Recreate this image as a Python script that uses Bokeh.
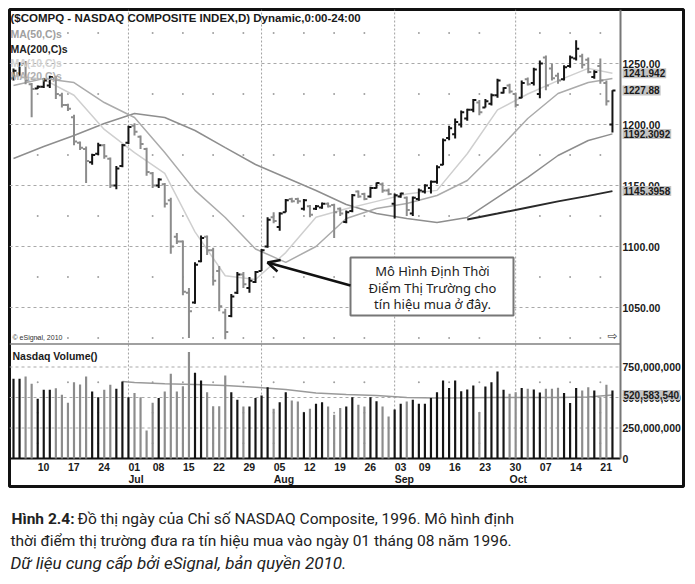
from bokeh.plotting import figure
from bokeh.models import Range1d, Arrow, OpenHead, ColumnDataSource
from bokeh.layouts import column
from bokeh.embed import file_html
from bokeh.resources import INLINE
from bokeh.core.properties import value

# ---------------- data ----------------
# daily sessions of the NASDAQ Composite, 4 Jun 1996 .. 23 Oct 1996 (index 0..99)
opens = [1238, 1242, 1250, 1233, 1229.5, 1231, 1232, 1238, 1224, 1216,
         1206, 1185, 1180, 1169, 1176, 1183, 1172, 1150, 1166, 1185,
         1199, 1190, 1180, 1160, 1150, 1151, 1138, 1108, 1104, 1062,
         1054, 1088, 1108, 1097, 1080, 1046, 1043, 1062, 1077, 1066,
         1071, 1080, 1100, 1124, 1116, 1128, 1139, 1139, 1131, 1133,
         1131, 1132, 1135, 1134, 1131, 1120, 1129, 1145, 1143, 1141,
         1148, 1151, 1146, 1135, 1141, 1140, 1127, 1139, 1145, 1148,
         1153, 1167, 1189, 1192, 1200, 1205, 1212, 1218, 1214, 1217,
         1224, 1226, 1232, 1225, 1222, 1237, 1234, 1225, 1255, 1246,
         1240, 1237, 1248, 1254, 1256, 1253, 1239, 1248, 1234, 1200]
highs = [1246, 1251, 1252, 1234, 1232, 1238, 1240, 1240, 1226, 1217,
         1208, 1186, 1182, 1176, 1185, 1184, 1173, 1166, 1184, 1199,
         1201, 1191, 1181, 1161, 1156, 1152, 1140, 1111, 1105, 1066,
         1087, 1109, 1109, 1099, 1084, 1049, 1061, 1079, 1079, 1075,
         1080, 1098, 1124, 1128, 1128, 1139, 1140, 1140, 1139, 1134,
         1134, 1136, 1136, 1135, 1132, 1129.5, 1143, 1146, 1144, 1149,
         1152.5, 1152.5, 1147.5, 1143.5, 1144, 1141, 1141, 1147.5, 1151, 1154,
         1166.5, 1188.5, 1199, 1205, 1211.5, 1213, 1221, 1220, 1221, 1225.5,
         1237.5, 1230.5, 1233.5, 1226, 1236, 1238.5, 1246.5, 1252.5, 1256.5, 1250,
         1242.5, 1248.5, 1256.5, 1269, 1258, 1255, 1244.5, 1254, 1236, 1228]
lows = [1236, 1240, 1233, 1206, 1229, 1230, 1230, 1221, 1214, 1211,
        1183, 1179, 1152, 1167, 1175, 1172, 1148, 1147, 1165, 1184,
        1191, 1180, 1158, 1148, 1148, 1132, 1094, 1102, 1060, 1025,
        1053, 1087, 1093, 1068, 1047, 1024, 1042, 1061, 1066, 1062,
        1070, 1080, 1099, 1119, 1113, 1128, 1136, 1135, 1129.5, 1124,
        1130, 1131, 1132, 1107, 1125, 1119, 1128, 1140, 1138, 1140,
        1147.5, 1144, 1142, 1123, 1140, 1125, 1125, 1137.5, 1143.5, 1143.5,
        1151.5, 1166.5, 1187, 1188.5, 1197.5, 1203, 1210, 1207.5, 1214, 1215.5,
        1222, 1225.5, 1225.5, 1214, 1221.5, 1232, 1232, 1221.5, 1228, 1236,
        1233.5, 1236, 1246.5, 1252.5, 1246, 1242, 1237.5, 1233.5, 1215.5, 1193.5]
closes = [1244, 1249, 1236, 1229, 1231, 1236, 1239, 1225, 1216, 1213,
          1186, 1181, 1170, 1175, 1183, 1174, 1150, 1164, 1183, 1198,
          1194, 1184, 1161, 1150, 1155, 1135, 1100, 1104, 1063, 1047,
          1085, 1107, 1097, 1072, 1051, 1030, 1059, 1077, 1069, 1072,
          1079, 1097, 1122, 1121, 1127, 1138, 1137, 1137, 1138, 1126,
          1133, 1135, 1133, 1128, 1127, 1128, 1142, 1141, 1139, 1148,
          1152, 1146, 1143, 1142, 1143.5, 1130, 1140, 1146, 1150, 1153,
          1165, 1187, 1197, 1202, 1210, 1212, 1220, 1210, 1219, 1224,
          1236, 1230, 1227, 1216, 1234, 1233, 1245, 1250, 1232, 1238,
          1236, 1247, 1255, 1262, 1249, 1243, 1243, 1236, 1219, 1227.88]
volume_m = [653, 653, 672, 612, 489, 563, 563, 576, 522, 456,
            626, 607, 672, 549, 503, 563, 604, 571, 631, 503,
            536, 503, 230, 456, 495, 549, 694, 549, 593, 872,
            702, 639, 544, 429, 429, 680, 544, 481, 426, 426,
            495, 516, 585, 407, 462, 544, 475, 467, 380, 407,
            448, 462, 426, 358, 413, 426, 503, 440, 426, 503,
            470, 426, 344, 402, 448, 467, 481, 448, 448, 495,
            544, 639, 577, 639, 552, 566, 598, 380, 590, 626,
            713, 563, 530, 544, 577, 571, 566, 540, 571, 571,
            579, 536, 454, 577, 557, 585, 557, 503, 604, 557]

ma_idx = [0, 5, 10, 15, 20, 25, 30, 35, 40, 45, 50, 55, 60, 65, 70, 75, 80, 85, 90, 95, 99]
ma10 = [1240, 1237, 1224, 1196, 1177, 1160, 1112, 1076, 1073, 1095, 1124,
        1131, 1137, 1143, 1146, 1176, 1212, 1225, 1236, 1246, 1241.942]
ma20 = [1232, 1237.7, 1234.4, 1218, 1205.7, 1177, 1146, 1123.8, 1098, 1087, 1100,
        1122.9, 1131.1, 1135.2, 1141.8, 1154.1, 1178.7, 1204.9, 1225.4, 1234.4, 1237.7]
ma50 = [1172.1, 1182, 1191, 1200.8, 1209, 1205.7, 1195.1, 1181.1, 1167.2, 1156.6, 1145.9,
        1134.4, 1127, 1122.9, 1119.7, 1123.8, 1140.2, 1156.6, 1174.6, 1186.9, 1192.3092]
ma200_idx = [75, 80, 85, 90, 95, 99]
ma200 = [1122.1, 1127, 1132, 1137, 1141.5, 1145.3958]
vol_ma_idx = [18, 20, 25, 30, 35, 40, 45, 50, 55, 60, 65, 70, 75, 80, 85, 90, 95, 99]
vol_ma_m = [631, 623, 613, 606, 598, 585, 565, 537, 525, 516, 500, 495, 497, 500, 500, 500, 505, 520.58354]

price_ticks = [1050, 1100, 1150, 1200, 1250]
price_tick_labels = ["1050.00", "1100.00", "1150.00", "1200.00", "1250.00"]
price_minor = [1025, 1075, 1125, 1175, 1225, 1275]
vol_ticks_m = [0, 250, 500, 750]
vol_tick_labels = ["0", "250,000,000", "500,000,000", "750,000,000"]
vol_minor_m = [125, 375, 625]
day_idx = [4, 9, 14, 19, 23, 28, 33, 38, 43, 48, 53, 58, 63, 67, 72, 77, 82, 87, 92, 97]
day_labels = ["10", "17", "24", "01", "08", "15", "22", "29", "05", "12",
              "19", "26", "03", "09", "16", "23", "30", "07", "14", "21"]
month_idx = [19, 43, 63, 82]
month_labels = ["Jul", "Aug", "Sep", "Oct"]
month_start_idx = [19, 41, 63, 83]
dot_idx = [4, 9, 14, 23, 28, 33, 38, 43, 48, 53, 58, 67, 72, 77, 87, 92, 97]
last_ma10 = 1241.942
last_close = 1227.88
last_ma50 = 1192.3092
last_ma200 = 1145.3958
last_vol_ma = 520583540

# ---------------- layout constants (page pixels) ----------------
PX_BAR0, PX_PER_BAR = 13.0, 6.05
FR_L, FR_T, FR_R, FR_B = 9, 9, 683, 486
PY_1250, PX_PER_PT = 63.0, 1.22
PY_VOL0, PX_PER_VOL = 458.0, 61.0 / 500e6
FIG_H = 492

def ix(px):
    return (px - PX_BAR0) / PX_PER_BAR

def pr(py):
    return 1250 - (py - PY_1250) / PX_PER_PT

def vo(py):
    return (PY_VOL0 - py) / PX_PER_VOL

AXIS_X = ix(620)
XL = ix(FR_L)
VOL_TOP = vo(FR_T)
FONT = value("Liberation Sans")

p = figure(frame_width=FR_R - FR_L, frame_height=FR_B - FR_T,
           min_border_left=FR_L, min_border_top=FR_T,
           min_border_right=695 - FR_R, min_border_bottom=FIG_H - FR_B,
           x_range=Range1d(ix(FR_L), ix(FR_R)), y_range=Range1d(pr(FR_B), pr(FR_T)),
           toolbar_location=None, output_backend="svg", title=None,
           x_axis_location=None, y_axis_location=None)
p.extra_y_ranges = {"vol": Range1d(vo(FR_B), vo(FR_T))}
p.grid.visible = False
p.outline_line_color = "#111111"
p.outline_line_width = 3
p.background_fill_color = "white"
p.border_fill_color = "white"

# ---- grid ----
p.segment(x0=[XL] * len(price_ticks), x1=[AXIS_X] * len(price_ticks), y0=price_ticks, y1=price_ticks,
          line_color="#a9a9a9", line_width=1, line_dash="3 3")
vt = [v * 1e6 for v in vol_ticks_m[1:]]
p.segment(x0=[XL] * len(vt), x1=[AXIS_X] * len(vt), y0=vt, y1=vt,
          line_color="#a9a9a9", line_width=1, line_dash="3 3", y_range_name="vol")
p.segment(x0=month_start_idx, x1=month_start_idx, y0=[0] * len(month_start_idx),
          y1=[VOL_TOP] * len(month_start_idx), line_color="#a0a0a0", line_width=1,
          line_dash="2 2", y_range_name="vol")
dx = [i for i in dot_idx for _ in price_minor]
dy = [lv for _ in dot_idx for lv in price_minor]
p.scatter(x=dx, y=dy, size=2, fill_color="#a0a0a0", line_color=None)
vdx = [i for i in dot_idx for _ in vol_minor_m]
vdy = [lv * 1e6 for _ in dot_idx for lv in vol_minor_m]
p.scatter(x=vdx, y=vdy, size=2, fill_color="#a0a0a0", line_color=None, y_range_name="vol")

# ---- panel frame lines ----
p.segment(x0=[XL], x1=[AXIS_X], y0=[pr(343.5)], y1=[pr(343.5)], line_color="#808080", line_width=1.5)
p.segment(x0=[XL], x1=[AXIS_X], y0=[0], y1=[0], line_color="#111111", line_width=2, y_range_name="vol")
p.segment(x0=[AXIS_X], x1=[AXIS_X], y0=[0], y1=[VOL_TOP], line_color="#777777", line_width=2,
          y_range_name="vol")

# ---- moving averages ----
p.line(ma_idx, ma50, line_color="#8e8e8e", line_width=1.5)
p.line(ma_idx, ma20, line_color="#ababab", line_width=1.5)
p.line(ma_idx, ma10, line_color="#cfcfcf", line_width=1.5)
p.line(ma200_idx, ma200, line_color="#2a2a2a", line_width=2)
p.line(vol_ma_idx, [v * 1e6 for v in vol_ma_m], line_color="#9a9a9a", line_width=1.5, y_range_name="vol")

# ---- bars ----
idx = list(range(len(closes)))
colors = ["#151515" if c >= o else "#8c8c8c" for o, c in zip(opens, closes)]
src = ColumnDataSource(dict(x=idx, xl=[i - 0.5 for i in idx], xr=[i + 0.5 for i in idx],
                            o=opens, h=highs, l=lows, c=closes, color=colors,
                            vol=[v * 1e6 for v in volume_m]))
p.segment(x0="x", y0="l", x1="x", y1="h", line_color="color", line_width=2, source=src)
p.segment(x0="xl", y0="o", x1="x", y1="o", line_color="color", line_width=2, source=src)
p.segment(x0="x", y0="c", x1="xr", y1="c", line_color="color", line_width=2, source=src)
p.vbar(x="x", top="vol", bottom=0, width=0.36, fill_color="color", line_color=None,
       y_range_name="vol", source=src)

# ---- texts in the chart ----
def txt(x, y, t, size="10.5px", color="#1a1a1a", style="bold", align="left", rn=None, font=FONT, **kw):
    args = dict(x=x, y=y, text=t, text_font=font, text_font_size=size, text_color=color,
                text_font_style=style, text_align=align, text_baseline="middle", **kw)
    if rn:
        args["y_range_name"] = rn
    return p.text(**args)

txt([ix(10)], [pr(17)], ["($COMPQ - NASDAQ COMPOSITE INDEX,D) Dynamic,0:00-24:00"], size="11.5px")
txt([ix(10)], [pr(33)], ["MA(50,C)s"], color="#a0a0a0")
txt([ix(10)], [pr(48)], ["MA(200,C)s"], color="#222222")
txt([ix(10)], [pr(62)], ["MA(10,C)s"], color="#d2d2d2")
txt([ix(10)], [pr(75)], ["MA(20,C)s"], color="#b0b0b0")
txt([ix(12)], [pr(337)], ["© eSignal, 2010"], size="7px", color="#333333", style="normal")
txt([ix(12)], [vo(355)], ["Nasdaq Volume()"], color="#1a1a1a", rn="vol")
txt([ix(612)], [pr(335)], ["⇨"], size="12px", color="#333333", style="normal",
    align="center", font=value("DejaVu Sans"))

# right axis labels
txt([ix(622)] * len(price_ticks), price_ticks, price_tick_labels)
txt([ix(622)] * len(vol_ticks_m), [v * 1e6 for v in vol_ticks_m], vol_tick_labels, rn="vol")
vals = [last_ma10, last_close, last_ma50, last_ma200]
txt([ix(622)] * len(vals), vals, [f"{v}" for v in vals], size="10px",
    background_fill_color="#c4c4c4", padding=1)
txt([ix(622)], [last_vol_ma], [f"{last_vol_ma:,}"], size="10px", rn="vol",
    background_fill_color="#c4c4c4", padding=1)

# date axis
txt(day_idx, [vo(466)] * len(day_idx), day_labels, rn="vol")
txt(month_idx, [vo(478)] * len(month_idx), month_labels, rn="vol")

# annotation box and arrow
p.quad(left=[ix(350)], right=[ix(513)], top=[pr(257)], bottom=[pr(315)],
       fill_color="white", line_color="#777777", line_width=2)
ann = ["Mô Hình Định Thời", "Điểm Thị Trường cho", "tín hiệu mua ở đây."]
txt([ix(432)] * 3, [pr(270), pr(287), pr(303)], ann, size="13px", color="#222222",
    style="normal", align="center", font=value("Noto Sans"))
p.add_layout(Arrow(end=OpenHead(size=12, line_width=2.5, line_color="#111111"),
                   x_start=ix(350), y_start=pr(285), x_end=ix(267), y_end=pr(262),
                   line_width=2.5, line_color="#111111"))

# ---------------- caption ----------------
c = figure(frame_width=695, frame_height=584 - FIG_H,
           min_border_left=0, min_border_right=0, min_border_top=0, min_border_bottom=0,
           x_range=Range1d(0, 695), y_range=Range1d(584 - FIG_H, 0),
           toolbar_location=None, output_backend="svg", title=None,
           x_axis_location=None, y_axis_location=None)
c.grid.visible = False
c.outline_line_color = None
CAP_FONT = value("Roboto")
CAP_SIZE = "15.5px"
c.text(x=[2], y=[26], text=["Hình 2.4:"], text_font=CAP_FONT, text_font_size=CAP_SIZE,
       text_font_style="bold", text_color="#222222", text_baseline="middle")
c.text(x=[68], y=[26], text=["Đồ thị ngày của Chỉ số NASDAQ Composite, 1996. Mô hình định"],
       text_font=CAP_FONT, text_font_size=CAP_SIZE, text_color="#222222", text_baseline="middle")
c.text(x=[1], y=[48], text=["thời điểm thị trường đưa ra tín hiệu mua vào ngày 01 tháng 08 năm 1996."],
       text_font=CAP_FONT, text_font_size=CAP_SIZE, text_color="#222222", text_baseline="middle")
c.text(x=[1], y=[70], text=["Dữ liệu cung cấp bởi eSignal, bản quyền 2010."],
       text_font=CAP_FONT, text_font_size="17px", text_font_style="italic",
       text_color="#222222", text_baseline="middle")

layout = column(p, c)
open("out.html", "w").write(file_html(layout, INLINE, title="NASDAQ 1996"))
